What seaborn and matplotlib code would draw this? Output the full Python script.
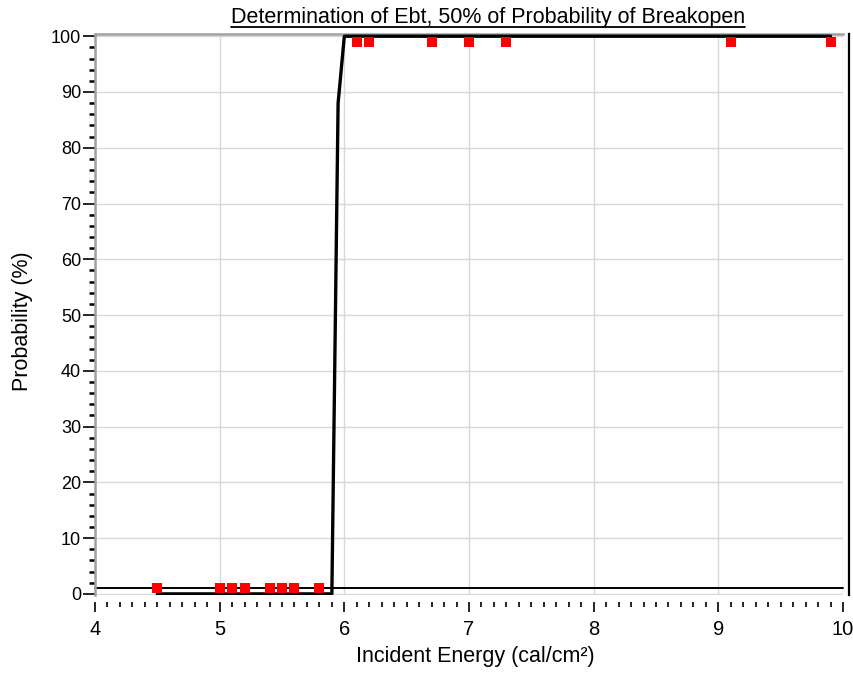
import numpy as np
import pandas as pd
import matplotlib
matplotlib.use("Agg")
import matplotlib.pyplot as plt
import seaborn as sns
from matplotlib.lines import Line2D
from matplotlib.ticker import MultipleLocator

# Measured tests: incident energy (cal/cm2) and breakopen result (%)
energy_no_break = [4.5, 5.0, 5.1, 5.2, 5.4, 5.5, 5.6, 5.8]
prob_no_break = [1, 1, 1, 1, 1, 1, 1, 1]
energy_break = [6.1, 6.2, 6.7, 7.0, 7.3, 9.1, 9.9]
prob_break = [99, 99, 99, 99, 99, 99, 99]

# Fitted probability curve
fit_energy = [4.5, 5.9, 5.95, 6.0, 9.9]
fit_prob = [0, 0, 88, 100, 100]

x_ticks = [4, 5, 6, 7, 8, 9, 10]
y_ticks = [0, 10, 20, 30, 40, 50, 60, 70, 80, 90, 100]

title = "Determination of Ebt, 50% of Probability of Breakopen"

sns.set_style("white")
plt.rcParams['font.family'] = ['Liberation Sans', 'DejaVu Sans']
plt.rcParams['text.color'] = 'black'
plt.rcParams['axes.labelcolor'] = 'black'

df_pts = pd.DataFrame({
    "energy": energy_no_break + energy_break,
    "prob": prob_no_break + prob_break,
})
df_fit = pd.DataFrame({"energy": fit_energy, "prob": fit_prob})

fig = plt.figure(figsize=(8.54, 6.74), dpi=100)
ax = fig.add_axes([95 / 854, 1 - 595 / 674, (843 - 95) / 854, (595 - 34) / 674])

# Grid
ax.grid(True, which="major", color="#d8d8d8", lw=1.0)
ax.set_axisbelow(True)

# Fit line
sns.lineplot(data=df_fit, x="energy", y="prob", sort=False, estimator=None,
             color="black", lw=2.4, ax=ax, zorder=3)
# Threshold line at 1 %
ax.axhline(1, color="black", lw=1.4, zorder=2, clip_on=False)
# Data points
sns.scatterplot(data=df_pts, x="energy", y="prob", marker="s", s=58,
                color="#ff0000", linewidth=0, ax=ax, zorder=4, clip_on=False)

ax.set_xlim(4, 10)
ax.set_ylim(-0.2, 100.4)
ax.set_xticks(x_ticks)
ax.set_yticks(y_ticks)
ax.xaxis.set_minor_locator(MultipleLocator(0.1))
ax.yaxis.set_minor_locator(MultipleLocator(2))

# Spines
ax.spines["left"].set_color("#a0a0a0")
ax.spines["left"].set_linewidth(1.8)
ax.spines["top"].set_color("#a0a0a0")
ax.spines["top"].set_linewidth(1.8)
ax.spines["right"].set_color("black")
ax.spines["right"].set_linewidth(1.6)
ax.spines["right"].set_position(("outward", 4))
ax.spines["bottom"].set_position(("outward", 5))
ax.spines["bottom"].set_visible(False)

ax.tick_params(axis="x", which="major", direction="out", length=7, width=1.2,
               color="black", labelcolor="black", labelsize=14.5, pad=6, bottom=True)
ax.tick_params(axis="x", which="minor", direction="out", length=3.5, width=1.2,
               color="black", bottom=True)
ax.tick_params(axis="y", which="major", direction="out", length=9, width=1.2,
               color="black", labelcolor="black", labelsize=13, pad=1, left=True)
ax.tick_params(axis="y", which="minor", direction="out", length=4, width=1.8,
               color="black", left=True)

ax.set_xlabel("Incident Energy (cal/cm²)", fontsize=15.5, color="black")
ax.set_ylabel("Probability (%)", fontsize=15.5, color="black")
ax.xaxis.set_label_coords(0.508, -0.091)
ax.yaxis.set_label_coords(-0.083, 0.488)

t = fig.text(488 / 854, 1 - 17 / 674, title, fontsize=15.5, ha="center", va="center",
             color="black")

# Underline the title
fig.canvas.draw()
bb = t.get_window_extent()
inv = fig.transFigure.inverted()
(x0, y0), (x1, _) = inv.transform([(bb.x0, bb.y0 + 1), (bb.x1, bb.y0 + 1)])
fig.add_artist(Line2D([x0, x1], [y0, y0], transform=fig.transFigure, color="black", lw=1.3))

plt.savefig("out.png", dpi=100)
plt.close()
